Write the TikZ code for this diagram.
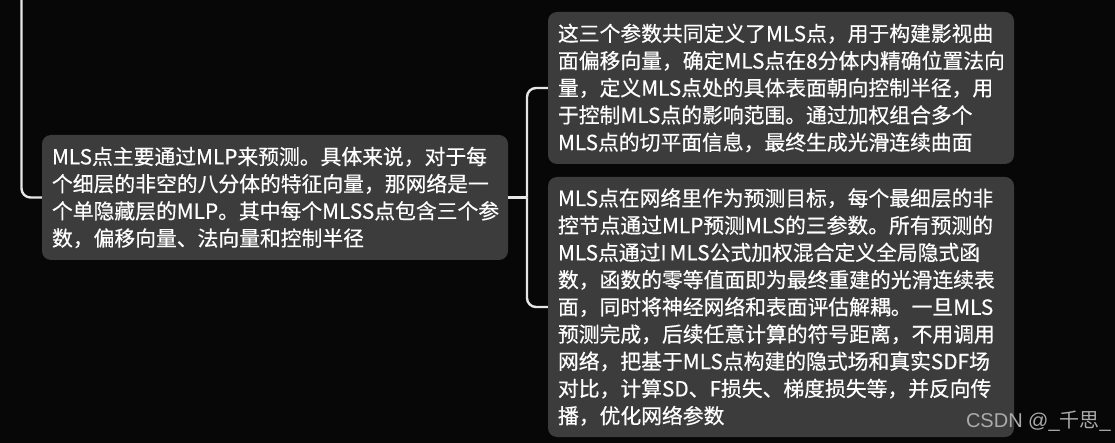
\documentclass[tikz,border=0pt]{standalone}
\usepackage{fontspec}
\setmainfont{Noto Sans CJK SC}[FakeBold=0.5]
\newfontfamily\wmlatin{Liberation Sans}
\newfontfamily\wmcjk{Noto Sans CJK SC}
\definecolor{bgc}{HTML}{070707}
\definecolor{boxc}{HTML}{3C3C3C}
\definecolor{linec}{HTML}{E6E6E6}
\definecolor{wmc}{HTML}{ABABAB}
\tikzset{
  topic/.style={fill=boxc, rounded corners=9pt, text=white, align=left,
    text width=446pt, inner xsep=10pt, inner ysep=0pt, minimum width=466pt,
    font=\fontsize{20.8}{27.2}\selectfont},
  link/.style={draw=linec, line width=2.4pt, rounded corners=9pt},
}
\begin{document}
\begin{tikzpicture}[x=1pt,y=-1pt]
\fill[bgc] (0,0) rectangle (1115,443);
\useasboundingbox (0,0) rectangle (1115,443);

\node[topic, minimum height=125pt] (left) at (275,197.5) {MLS点主要通过MLP来预测。具体来说，对于每\\个细层的非空的八分体的特征向量，那网络是一\\个单隐藏层的MLP。其中每个MLSS点包含三个参\\数，偏移向量、法向量和控制半径};

\node[topic, minimum height=152pt] (tr) at (781,88) {这三个参数共同定义了MLS点，用于构建影视曲\\面偏移向量，确定MLS点在8分体内精确位置法向\\量，定义MLS点处的具体表面朝向控制半径，用\\于控制MLS点的影响范围。通过加权组合多个\\MLS点的切平面信息，最终生成光滑连续曲面};

\node[topic, minimum height=260pt] (br) at (781,307) {MLS点在网络里作为预测目标，每个最细层的非\\控节点通过MLP预测MLS的三参数。所有预测的\\MLS点通过I\hspace{3pt}MLS公式加权混合定义全局隐式函\\数，函数的零等值面即为最终重建的光滑连续表\\面，同时将神经网络和表面评估解耦。一旦MLS\\预测完成，后续任意计算的符号距离，不用调用\\网络，把基于MLS点构建的隐式场和真实SDF场\\对比，计算SD、F损失、梯度损失等，并反向传\\播，优化网络参数};

\coordinate (topc) at (21.5,-5);
\coordinate (j) at (527,197.5);

\draw[link] (topc) |- (left.west);
\draw[link, rounded corners=0pt] (left.east) -- (j);
\draw[link] (j) |- (tr.west);
\draw[link] (j) |- (br.west);

\node[anchor=base east, inner sep=0pt, text=wmc, font=\fontsize{20}{22}\selectfont] (wm) at (1111,427) {{\wmlatin CSDN @\_}{\wmcjk 千思}{\wmlatin \_}};
\end{tikzpicture}
\end{document}
